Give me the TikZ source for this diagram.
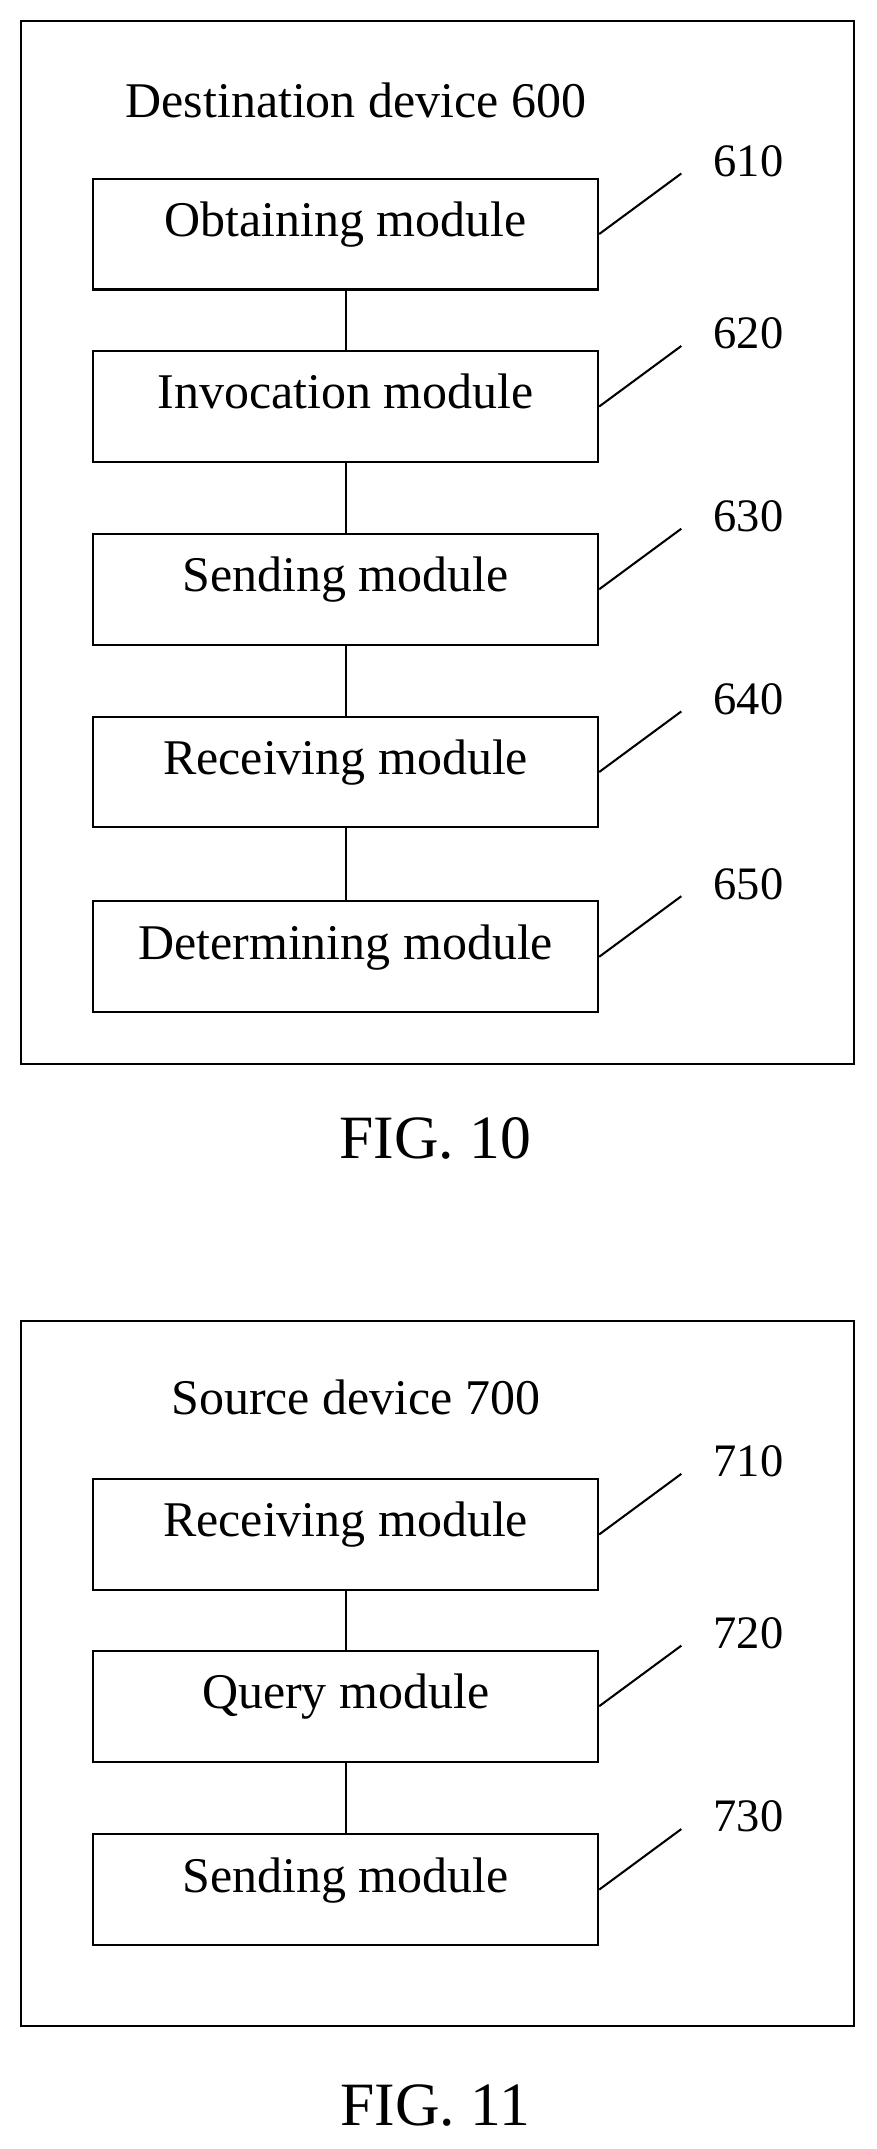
\documentclass[tikz,border=0pt]{standalone}
\usepackage{fontspec}
\setmainfont{Liberation Serif}
\begin{document}
\begin{tikzpicture}[x=1pt,y=-1pt,
  mod/.style={draw,line width=1.5pt,minimum width=369pt,minimum height=81pt,font=\fontsize{36.5}{40}\selectfont,inner sep=0pt,text depth=0.3em,text height=0.66em},
  outer/.style={draw,line width=1.5pt},
  lbl/.style={font=\fontsize{34}{38}\selectfont},
  ttl/.style={font=\fontsize{36.5}{40}\selectfont},
  fig/.style={font=\fontsize{45}{50}\selectfont},
  conn/.style={line width=1.5pt}]
\useasboundingbox (0,0) rectangle (640,1570);
\draw[outer] (15,15) rectangle (624,777);
\node[ttl] (t1) at (260,73) {Destination device 600};
\node[mod] (a1) at (252.5,171) {Obtaining module};
\node[mod] (a2) at (252.5,297) {Invocation module};
\node[mod] (a3) at (252.5,430.5) {Sending module};
\node[mod] (a4) at (252.5,564) {Receiving module};
\node[mod] (a5) at (252.5,699) {Determining module};
\foreach \i/\j in {a1/a2,a2/a3,a3/a4,a4/a5} \draw[conn] (\i.south) -- (\j.north);
\foreach \n/\t in {a1/610,a2/620,a3/630,a4/640,a5/650}{
  \coordinate (e\n) at ([xshift=60pt,yshift=3pt]\n.north east);
  \draw[conn] (\n.east) -- (e\n);
  \node[lbl,anchor=south west] (l\n) at ([xshift=20pt,yshift=-6pt]e\n) {\t};
}
\node[fig] (f10) at (318,832) {FIG. 10};

\draw[outer] (15,965) rectangle (624,1480);
\node[ttl] (t2) at (260,1021) {Source device 700};
\node[mod] (b1) at (252.5,1121) {Receiving module};
\node[mod] (b2) at (252.5,1246.5) {Query module};
\node[mod] (b3) at (252.5,1380.5) {Sending module};
\foreach \i/\j in {b1/b2,b2/b3} \draw[conn] (\i.south) -- (\j.north);
\foreach \n/\t in {b1/710,b2/720,b3/730}{
  \coordinate (e\n) at ([xshift=60pt,yshift=3pt]\n.north east);
  \draw[conn] (\n.east) -- (e\n);
  \node[lbl,anchor=south west] (l\n) at ([xshift=20pt,yshift=-6pt]e\n) {\t};
}
\node[fig] (f11) at (318,1538) {FIG. 11};
\end{tikzpicture}
\end{document}
